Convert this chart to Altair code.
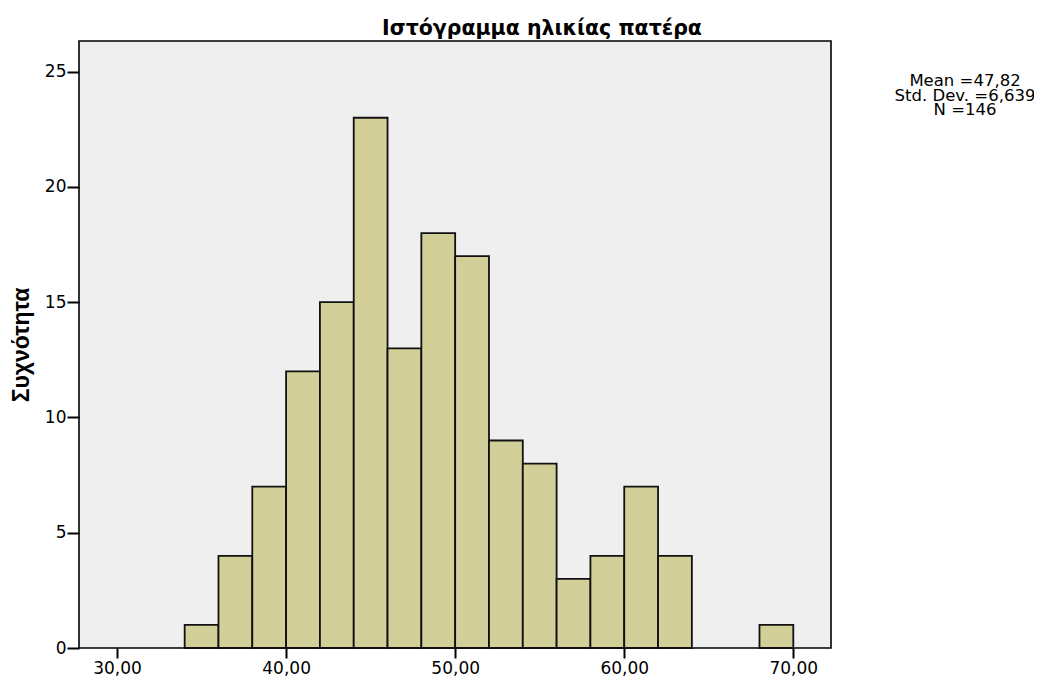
import altair as alt
import pandas as pd

bin_start = [34, 36, 38, 40, 42, 44, 46, 48, 50, 52, 54, 56, 58, 60, 62, 68]
bin_end = [36, 38, 40, 42, 44, 46, 48, 50, 52, 54, 56, 58, 60, 62, 64, 70]
counts = [1, 4, 7, 12, 15, 23, 13, 18, 17, 9, 8, 3, 4, 7, 4, 1]
x_ticks = [30, 40, 50, 60, 70]
y_ticks = [0, 5, 10, 15, 20, 25]
stats_lines = ["Mean =47,82", "Std. Dev. =6,639", "N =146"]
title_text = "Ιστόγραμμα ηλικίας πατέρα"

df = pd.DataFrame({"start": bin_start, "end": bin_end, "count": counts})

W, H = 752, 607

x_scale = alt.Scale(domain=[27.75, 72.23], nice=False, zero=False)
y_scale = alt.Scale(domain=[0, 26.33], nice=False)

bars = alt.Chart(df).mark_bar(
    fill="#d3cf99", stroke="#111111", strokeWidth=1.8
).encode(
    x=alt.X("start:Q", scale=x_scale,
            axis=alt.Axis(values=x_ticks, title=None, grid=False,
                          labelExpr="replace(format(datum.value, '.2f'), '.', ',')",
                          tickSize=10, tickWidth=2, tickColor="#000", domain=False,
                          labelFontSize=17, labelColor="#000", labelPadding=2,
                          labelFont="DejaVu Sans")),
    x2="end:Q",
    y=alt.Y("count:Q", scale=y_scale,
            axis=alt.Axis(values=y_ticks, title="Συχνότητα", grid=False,
                          tickSize=12, tickWidth=2, tickColor="#000", domain=False,
                          labelFontSize=17, labelColor="#000", labelPadding=1,
                          labelFont="DejaVu Sans",
                          titleFont="Liberation Sans",
                          titleFontSize=23, titleFontWeight="bold",
                          titleColor="#000", titlePadding=11)),
    y2=alt.datum(0),
)

title_df = pd.DataFrame({"t": [title_text]})
title = alt.Chart(title_df).mark_text(
    font="DejaVu Sans", fontSize=20.5, fontWeight="bold", color="#000",
    align="center", baseline="alphabetic"
).encode(x=alt.value(463), y=alt.value(-6), text="t:N")

stats_df = pd.DataFrame({"line": ["\n".join(stats_lines)]})
stats = alt.Chart(stats_df).mark_text(
    font="DejaVu Sans", fontSize=16.5, color="#000",
    align="center", baseline="middle", lineBreak="\n", lineHeight=14.5
).encode(
    x=alt.value(886),
    y=alt.value(40),
    text="line:N",
)

chart = alt.layer(bars, title, stats).properties(
    width=W, height=H,
    autosize=alt.AutoSizeParams(type="none"),
    padding={"left": 71, "top": 33, "right": 203, "bottom": 29},
).configure(
    background="white",
    view=alt.ViewConfig(fill="#efefef", stroke="#000", strokeWidth=1.6),
)

chart.save("out.html", embed_options={"renderer": "svg", "actions": False})
